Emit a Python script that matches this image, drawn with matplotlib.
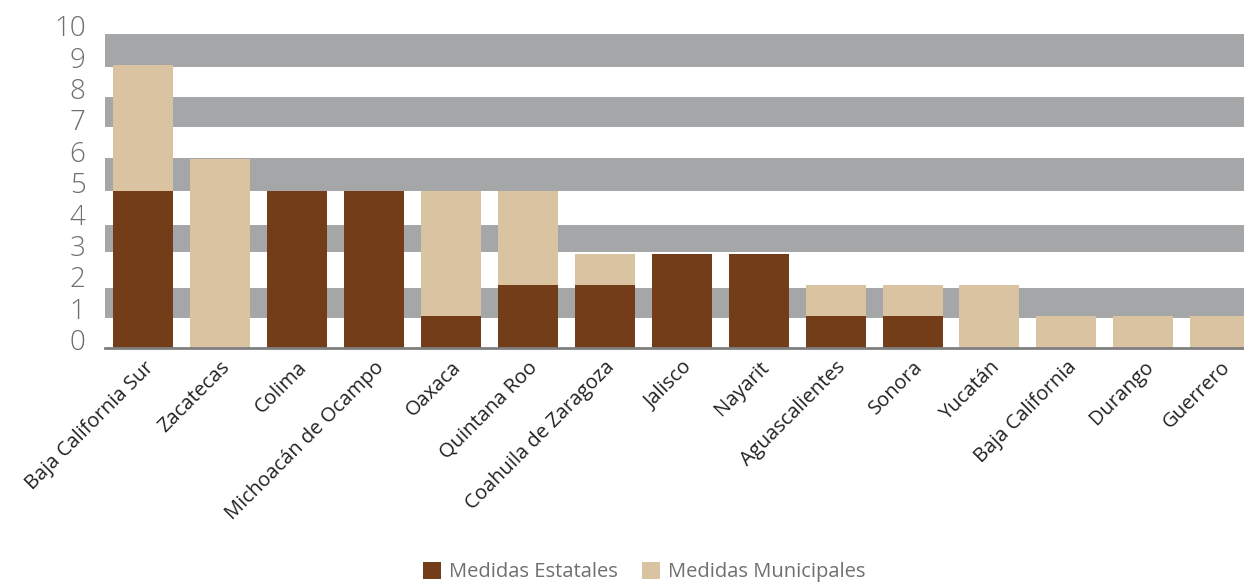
import matplotlib
matplotlib.use("Agg")
import matplotlib.pyplot as plt
import matplotlib.transforms as mtransforms
import numpy as np

plt.rcParams['font.family'] = ['Open Sans', 'DejaVu Sans']

# data
estados = ["Baja California Sur", "Zacatecas", "Colima", "Michoacán de Ocampo",
           "Oaxaca", "Quintana Roo", "Coahuila de Zaragoza", "Jalisco", "Nayarit",
           "Aguascalientes", "Sonora", "Yucatán", "Baja California", "Durango",
           "Guerrero"]
estatales = [5, 0, 5, 5, 1, 2, 2, 3, 3, 1, 1, 0, 0, 0, 0]
municipales = [4, 6, 0, 0, 4, 3, 1, 0, 0, 1, 1, 2, 1, 1, 1]
yticks = list(range(0, 11))

# gray background bands (as drawn in the original)
bands = [(0.95, 1.9), (3.05, 3.9), (5.0, 6.05), (7.03, 8.0), (8.95, 10.0)]

c_est = "#723D18"
c_mun = "#DAC3A0"
c_band = "#A5A6A8"

fig = plt.figure(figsize=(12.44, 5.83), dpi=100)
ax = fig.add_axes([0.0844, 0.4036, 0.9156, 0.5654])

for lo, hi in bands:
    ax.axhspan(lo, hi, color=c_band, lw=0, zorder=0)

x = np.arange(len(estados))
w = 0.78
ax.bar(x, estatales, w, color=c_est, label="Medidas Estatales", zorder=2)
ax.bar(x, municipales, w, bottom=estatales, color=c_mun,
       label="Medidas Municipales", zorder=2)

ax.set_xlim(-0.5, 14.31)
ax.set_ylim(0, 10.5)

for s in ["top", "right", "left"]:
    ax.spines[s].set_visible(False)
ax.spines["bottom"].set_color("#7f7f7f")
ax.spines["bottom"].set_linewidth(2)
ax.spines["bottom"].set_zorder(3)

ax.set_yticks(yticks)
ax.set_yticklabels([str(v) for v in yticks], fontsize=20, color="#6f6f6f",
                   fontweight="light")
ax.tick_params(axis="y", length=0, pad=14)
offset = mtransforms.ScaledTranslation(0, 8 / 100, fig.dpi_scale_trans)
for lab in ax.get_yticklabels():
    lab.set_transform(lab.get_transform() + offset)

ax.set_xticks(x)
ax.set_xticklabels(estados, rotation=45, ha="right", rotation_mode="anchor",
                   fontsize=14.5, color="#222222")
ax.tick_params(axis="x", length=0, pad=7)

fig.legend(loc="lower center", bbox_to_anchor=(0.518, -0.03), ncol=2,
           frameon=False, fontsize=14.5, labelcolor="#6f6f6f",
           handlelength=0.9, handleheight=0.9, handletextpad=0.4,
           columnspacing=1.2)

fig.savefig("out.png", dpi=100)
